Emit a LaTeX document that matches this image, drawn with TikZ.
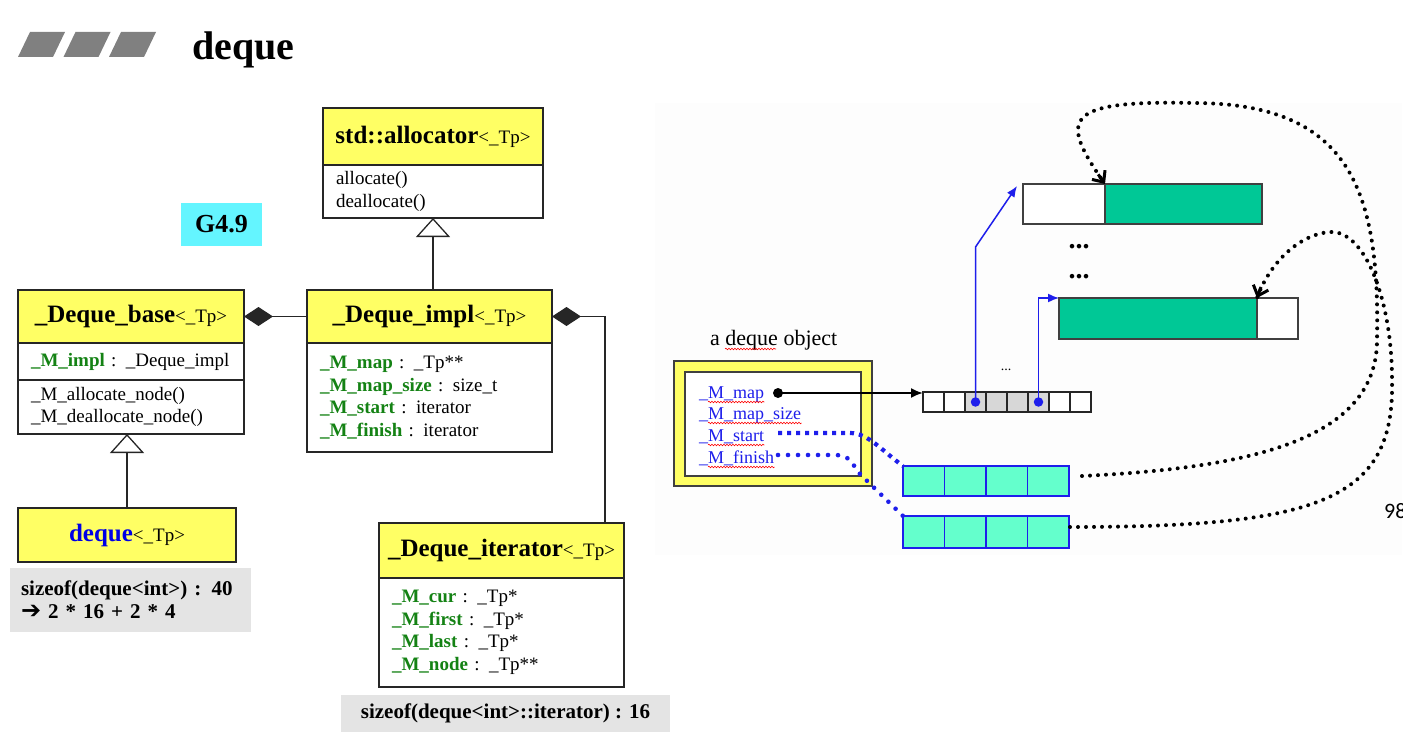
\documentclass[tikz,border=0pt]{standalone}
\usepackage{fontspec}
\setmainfont{Liberation Serif}
\newfontfamily\symfont{DejaVu Sans}
\newfontfamily\pgfont{Carlito}
\usetikzlibrary{arrows.meta,positioning,calc,decorations.pathmorphing}
\definecolor{umlyellow}{RGB}{255,255,100}
\definecolor{fldgreen}{RGB}{20,130,20}
\definecolor{verblue}{RGB}{0,0,230}
\definecolor{g49cyan}{RGB}{100,245,255}
\definecolor{notegray}{RGB}{228,228,228}
\definecolor{headgray}{RGB}{128,128,128}
\definecolor{bufgreen}{RGB}{0,200,150}
\definecolor{itgreen}{RGB}{100,255,204}
\definecolor{ptrblue}{RGB}{30,30,235}
\definecolor{mapgray}{RGB}{215,215,215}
\newcommand\clsname[2][black]{{\fontsize{25}{28}\selectfont\bfseries\color{#1}#2}{\fontsize{19}{22}\selectfont<\_Tp>}}
\newcommand\fld[1]{\textcolor{fldgreen}{\bfseries #1}}
\tikzset{>=latex}
\tikzset{
  umlhead/.style = {draw=black!85, fill=umlyellow, line width=1.3pt, outer sep=0pt, inner sep=0pt},
  umlbody/.style = {draw=black!85, fill=white, line width=1.3pt, outer sep=0pt,
    inner xsep=13pt, inner ysep=0pt, align=left, font=\fontsize{19}{22.5}\selectfont},
  note/.style = {fill=notegray, outer sep=0pt, inner xsep=11pt, inner ysep=0pt,
    font=\fontsize{21}{23}\selectfont\bfseries},
  inherit/.style = {line width=1.3pt, draw=black!85, {Triangle[open,length=19pt,width=34pt]}-},
  owns/.style = {line width=1.3pt, draw=black!85, {Diamond[length=29pt,width=19pt]}-}
}
\tikzset{
  field/.style = {anchor=base west, inner sep=0pt, text=ptrblue, font=\fontsize{18}{21}\selectfont},
  spell/.style = {red, line width=0.6pt, decorate, decoration={snake,amplitude=0.8pt,segment length=3pt}},
  mapcell/.style = {draw=black!85, line width=1.2pt, minimum width=21pt, minimum height=20pt, inner sep=0pt, outer sep=0pt},
  itcell/.style = {draw=ptrblue, fill=itgreen, line width=1.4pt, minimum width=41.5pt, inner sep=0pt, outer sep=0pt},
  blk/.style = {draw=black!75, line width=1.4pt, minimum height=40pt, inner sep=0pt, outer sep=0pt},
  ptr/.style = {ptrblue, line width=1.5pt, -{Latex[length=11pt,width=9pt]}},
  linkdots/.style = {black, line width=4pt, line cap=round, dash pattern=on 0pt off 8pt},
  barb/.style = {black, line width=3pt, -{Straight Barb[length=9pt,width=16pt]}},
  itdots/.style = {ptrblue, line width=4.2pt, dash pattern=on 4pt off 5pt}
}

\begin{document}
\begin{tikzpicture}[x=1pt,y=-1pt]
  \useasboundingbox (0,0) rectangle (1415,738);
  \fill[black!0.8] (655,103) rectangle (1402,555);

  % title bar
  \foreach \i in {0,1,2}
    \fill[headgray] (18+45.5*\i,57) -- ++(35,0) -- ++(12,-25) -- ++(-35,0) -- cycle;
  \node[anchor=base west, inner sep=0pt, font=\fontsize{40}{44}\selectfont\bfseries] (title) at (192,60) {deque};

  % class diagram
  \node[fill=g49cyan, minimum width=81pt, minimum height=43pt, font=\fontsize{26}{28}\selectfont\bfseries] (ver) at (221.5,224.5) {G4.9};

  \node[umlhead, minimum width=220pt, minimum height=57pt] (allochead) at (433,136.5) {\clsname{std::allocator}};
  \node[umlbody, text width=194pt, minimum height=53pt, below=0pt of allochead] (allocops) {allocate()\\deallocate()};

  \node[umlhead, minimum width=226pt, minimum height=53pt] (basehead) at (131,316.5) {\clsname{\_Deque\_base}};
  \node[umlbody, text width=200pt, minimum height=37pt, below=0pt of basehead] (baseattr) {\fld{\_M\_impl} : \_Deque\_impl};
  \node[umlbody, text width=200pt, minimum height=54pt, below=0pt of baseattr] (baseops) {\_M\_allocate\_node()\\\_M\_deallocate\_node()};

  \node[umlhead, minimum width=245pt, minimum height=53pt] (implhead) at (429.5,316.5) {\clsname{\_Deque\_impl}};
  \node[umlbody, text width=219pt, minimum height=109pt, below=0pt of implhead] (implattr)
    {\fld{\_M\_map} : \_Tp**\\\fld{\_M\_map\_size} : size\_t\\\fld{\_M\_start} : iterator\\\fld{\_M\_finish} : iterator};

  \node[umlhead, minimum width=218pt, minimum height=54pt] (dq) at (127,535) {\clsname[verblue]{deque}};
  \node[note, minimum width=241pt, minimum height=64pt, text width=219pt, align=left] (dqsize) at (130.5,600)
    {sizeof(deque<int>) : 40\\{\symfont\mdseries\fontsize{24}{20}\selectfont ➔} 2 * 16 + 2 * 4};

  \node[umlhead, minimum width=245pt, minimum height=55pt] (iterhead) at (501.5,550.5) {\clsname{\_Deque\_iterator}};
  \node[umlbody, text width=219pt, minimum height=109pt, below=0pt of iterhead] (iterattr)
    {\fld{\_M\_cur} : \_Tp*\\\fld{\_M\_first} : \_Tp*\\\fld{\_M\_last} : \_Tp*\\\fld{\_M\_node} : \_Tp**};
  \node[note, minimum width=329pt, minimum height=37pt, align=center] (itsize) at (505.5,713.5)
    {sizeof(deque<int>::iterator) : 16};

  \draw[inherit] (allocops.south) -- (allocops.south |- implhead.north);
  \draw[inherit] (dq.north |- baseops.south) -- (dq.north);
  \draw[owns] (basehead.east) -- (implhead.west);
  \draw[owns] (implhead.east) -| ([xshift=-19pt]iterhead.north east);

  % a deque object
  \node[anchor=base west, inner sep=0pt, font=\fontsize{22}{24}\selectfont] (objlabel) at (710,345) {a deque object};
  \draw[spell] ($(objlabel.base west)+(15,4)$) -- ++(51,0);
  \node[draw=black!75, fill=umlyellow, line width=1.3pt, minimum width=198pt, minimum height=125pt] (dqobj) at (773,423.5) {};
  \node[draw=black!75, fill=white, line width=1.3pt, minimum width=176pt, minimum height=104pt] (dqin) at (773,424) {};
  \node[field] (fmap) at (699,398) {\_M\_map};
  \node[field] (fsize) at (699,419) {\_M\_map\_size};
  \node[field] (fstart) at (699,441) {\_M\_start};
  \node[field] (ffinish) at (699,463) {\_M\_finish};
  \foreach \f in {fmap,fsize,fstart,ffinish}
    \draw[spell] ($(\f.base west)+(9,4)$) -- ($(\f.base east)+(0,4)$);

  % map and buffers
  \foreach \i/\c in {1/white,2/white,3/mapgray,4/mapgray,5/mapgray,6/mapgray,7/white,8/white}
    \node[mapcell, fill=\c] (m\i) at (912.5+21*\i,402) {};
  \node[blk, fill=white, minimum width=82pt] (blk1a) at (1064,204) {};
  \node[blk, fill=bufgreen, minimum width=157pt] (blk1b) at (1183.5,204) {};
  \node[blk, fill=bufgreen, minimum width=198pt, minimum height=41pt] (blk2a) at (1158,318.5) {};
  \node[blk, fill=white, minimum width=41pt, minimum height=41pt] (blk2b) at (1277.5,318.5) {};
  \node[inner sep=0pt, font=\fontsize{28}{30}\selectfont\bfseries] (gap1) at (1079,247) {...};
  \node[inner sep=0pt, font=\fontsize{28}{30}\selectfont\bfseries] (gap2) at (1079,277) {...};
  \node[inner sep=0pt, font=\fontsize{14}{16}\selectfont] (gap3) at (1006,370) {...};

  \draw[ptr] (m3.center) -- ++(0,-155) -- ($(blk1a.north west)+(-6,2)$);
  \draw[ptr] (m6.center) |- (blk2a.north west);
  \node[circle, fill=ptrblue, minimum size=9.5pt, inner sep=0pt] (p1) at (m3) {};
  \node[circle, fill=ptrblue, minimum size=9.5pt, inner sep=0pt] (p2) at (m6) {};

  \node[circle, fill=black, minimum size=10pt, inner sep=0pt] (mapdot) at (778,393) {};
  \draw[black, line width=2pt, -{Latex[length=12pt,width=10pt]}] (mapdot.center) -- (mapdot.center -| m1.west);

  % iterators
  \foreach \i in {1,...,4} {
    \node[itcell, minimum height=30pt] (s\i) at (882.25+41.5*\i,481) {};
    \node[itcell, minimum height=32pt] (f\i) at (882.25+41.5*\i,532) {};
  }
  \draw[itdots] ($(fstart.base -| mapdot)+(0,-8)$) -- ++(72,0) .. controls +(18,0) and +(-22,-16) .. (s1.north west);
  \draw[itdots, line cap=round, dash pattern=on 0pt off 10pt, line width=4.6pt]
    ($(ffinish.base -| mapdot)+(0,-8)$) -- ++(58,0) .. controls +(14,0) and +(-8,-10) .. (860,474) -- (f1.north west);

  \draw[linkdots] ($(s4.east)+(13,-5)$) .. controls (1250,468) and (1377,440) .. (1377,340)
    .. controls (1380,190) and (1350,103) .. (1193,103) .. controls (1060,100) and (1060,120) .. (blk1a.north east);
  \draw[barb] ($(blk1a.north east)+(-6.8,-9.6)$) -- (blk1a.north east);
  \draw[linkdots] ($(f4.east)+(1,-5)$) .. controls (1320,527) and (1395,500) .. (1392,380)
    .. controls (1392,300) and (1365,230) .. (1330,232) .. controls (1300,234) and (1270,262) .. (blk2a.north east);
  \draw[barb] ($(blk2a.north east)+(4,-11)$) -- (blk2a.north east);

  \begin{scope}
    \clip (655,103) rectangle (1402,555);
    \node[anchor=base west, inner sep=0pt, font=\pgfont\fontsize{22}{24}\selectfont] (pgno) at (1384,518) {98};
  \end{scope}
\end{tikzpicture}
\end{document}
